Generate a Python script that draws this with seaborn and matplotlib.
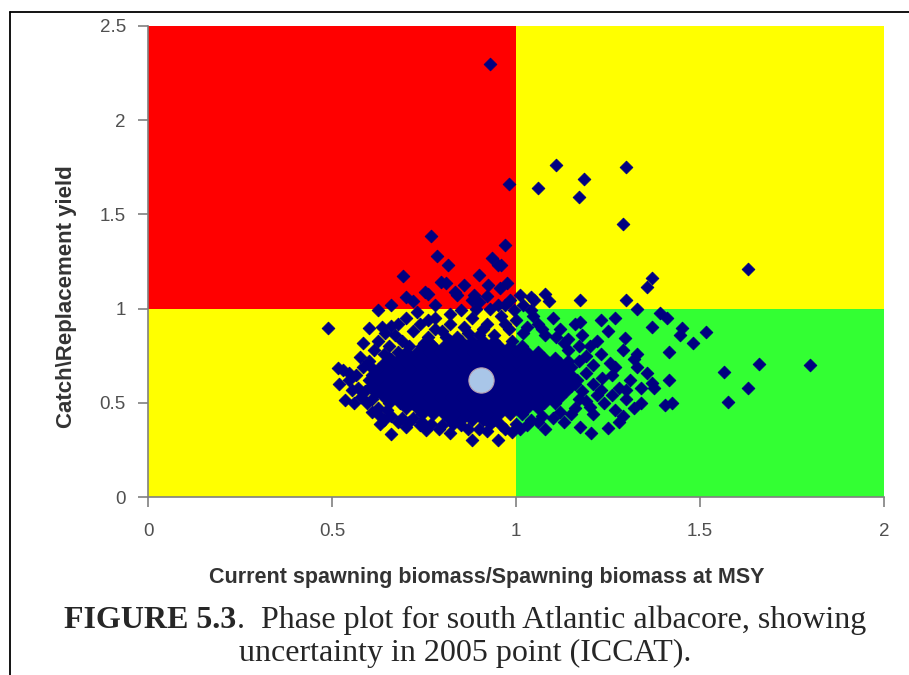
import pandas as pd
import seaborn as sns
import matplotlib.pyplot as plt
from matplotlib.lines import Line2D

# Stock status zones (x range, y range, colour)
zone_x = [(0, 1), (1, 2), (0, 1), (1, 2)]
zone_y = [(1, 2.5), (1, 2.5), (0, 1), (0, 1)]
zone_colors = ['#ff0000', '#ffff00', '#ffff00', '#33ff33']

# Dense core of the bootstrap cloud, read row by row (y: list of x)
core_rows = {
    0.41: [0.82, 0.85, 0.88, 0.91, 0.94],
    0.44: [0.745, 0.775, 0.805, 0.835, 0.865, 0.895, 0.925, 0.955, 0.985, 1.015],
    0.47: [0.70, 0.73, 0.76, 0.79, 0.82, 0.85, 0.88, 0.91, 0.94, 0.97, 1.00, 1.03, 1.06],
    0.50: [0.655, 0.685, 0.715, 0.745, 0.775, 0.805, 0.835, 0.865, 0.895, 0.925, 0.955,
           0.985, 1.015, 1.045, 1.075, 1.105],
    0.53: [0.64, 0.67, 0.70, 0.73, 0.76, 0.79, 0.82, 0.85, 0.88, 0.91, 0.94, 0.97, 1.00,
           1.03, 1.06, 1.09, 1.12],
    0.56: [0.625, 0.655, 0.685, 0.715, 0.745, 0.775, 0.805, 0.835, 0.865, 0.895, 0.925,
           0.955, 0.985, 1.015, 1.045, 1.075, 1.105, 1.135],
    0.59: [0.61, 0.64, 0.67, 0.70, 0.73, 0.76, 0.79, 0.82, 0.85, 0.88, 0.91, 0.94, 0.97,
           1.00, 1.03, 1.06, 1.09, 1.12, 1.15],
    0.62: [0.625, 0.655, 0.685, 0.715, 0.745, 0.775, 0.805, 0.835, 0.865, 0.895, 0.925,
           0.955, 0.985, 1.015, 1.045, 1.075, 1.105, 1.135, 1.165],
    0.65: [0.61, 0.64, 0.67, 0.70, 0.73, 0.76, 0.79, 0.82, 0.85, 0.88, 0.91, 0.94, 0.97,
           1.00, 1.03, 1.06, 1.09, 1.12, 1.15],
    0.68: [0.625, 0.655, 0.685, 0.715, 0.745, 0.775, 0.805, 0.835, 0.865, 0.895, 0.925,
           0.955, 0.985, 1.015, 1.045, 1.075, 1.105, 1.135],
    0.71: [0.64, 0.67, 0.70, 0.73, 0.76, 0.79, 0.82, 0.85, 0.88, 0.91, 0.94, 0.97, 1.00,
           1.03, 1.06, 1.09, 1.12],
    0.74: [0.655, 0.685, 0.715, 0.745, 0.775, 0.805, 0.835, 0.865, 0.895, 0.925, 0.955,
           0.985, 1.015, 1.045, 1.075, 1.105],
    0.77: [0.70, 0.73, 0.76, 0.79, 0.82, 0.85, 0.88, 0.91, 0.94, 0.97, 1.00, 1.03, 1.06],
    0.80: [0.745, 0.775, 0.805, 0.835, 0.865, 0.895, 0.925, 0.955, 0.985, 1.015],
    0.83: [0.82, 0.85, 0.88, 0.91, 0.94],
}

# Scattered points around the core
halo_pts = [
    (0.49, 0.895), (0.53, 0.675), (0.515, 0.685), (0.535, 0.515), (0.555, 0.57),
    (0.60, 0.62), (0.595, 0.50), (0.61, 0.685), (0.575, 0.745), (0.585, 0.82),
    (0.60, 0.895), (0.635, 0.90), (0.625, 0.99), (0.63, 0.39), (0.66, 0.335),
    (0.65, 0.46), (0.545, 0.66), (0.57, 0.58), (0.62, 0.55), (0.625, 0.47),
    (0.64, 0.76), (0.655, 0.80), (0.67, 0.86), (0.68, 0.92), (0.70, 0.95),
    (0.62, 0.64), (0.58, 0.53), (0.56, 0.50), (0.64, 0.41), (0.68, 0.40),
    (0.70, 0.37), (0.72, 0.42), (0.755, 0.355), (0.745, 0.40), (0.80, 0.38),
    (0.82, 0.34), (0.85, 0.38), (0.88, 0.30), (0.90, 0.36), (0.93, 0.39),
    (0.95, 0.30), (0.97, 0.36), (1.00, 0.39), (0.99, 0.345), (1.03, 0.38),
    (1.06, 0.40), (1.08, 0.36), (1.10, 0.42), (1.13, 0.40), (1.15, 0.44),
    (1.175, 0.37), (1.205, 0.34), (1.25, 0.365), (1.28, 0.40),
    (0.72, 0.88), (0.74, 0.92), (0.76, 0.85), (0.78, 0.95), (0.80, 0.88),
    (0.82, 0.92), (0.84, 0.85), (0.86, 0.90), (0.88, 0.95), (0.90, 0.86),
    (0.92, 0.92), (0.94, 0.86), (0.96, 0.96), (0.98, 0.89), (1.00, 0.94),
    (1.02, 0.87), (1.04, 0.99), (1.06, 0.92), (1.08, 0.86), (1.10, 0.95),
    (1.12, 0.89), (1.14, 0.84), (1.16, 0.92), (1.18, 0.86), (0.73, 0.98),
    (0.85, 0.99), (0.93, 1.00), (1.02, 1.02), (1.09, 1.04), (0.69, 0.83),
    (0.77, 0.81), (0.99, 0.83), (1.20, 0.80),
    (1.14, 0.78), (1.17, 0.72), (1.19, 0.66), (1.21, 0.60), (1.22, 0.54),
    (1.20, 0.48), (1.17, 0.52), (1.23, 0.76), (1.255, 0.71), (1.26, 0.65),
    (1.28, 0.58), (1.24, 0.50), (1.27, 0.46), (1.30, 0.52), (1.31, 0.62),
    (1.30, 0.57), (1.33, 0.69), (1.295, 0.845), (1.29, 0.78), (1.16, 0.60),
    (1.18, 0.56), (1.15, 0.69), (1.22, 0.83), (1.25, 0.88), (1.27, 0.95),
    (1.23, 0.94), (1.175, 0.93),
    (0.52, 0.60), (0.545, 0.62), (0.565, 0.65), (0.585, 0.69), (0.60, 0.72),
    (0.59, 0.56), (0.605, 0.59), (0.61, 0.52), (0.615, 0.78), (0.625, 0.83),
    (0.645, 0.87), (0.66, 0.91), (0.61, 0.45), (0.63, 0.43), (0.66, 0.43),
    (0.69, 0.42), (0.71, 0.40), (0.74, 0.38), (0.77, 0.39), (0.79, 0.36),
    (0.83, 0.39), (0.87, 0.36), (0.92, 0.35), (0.96, 0.38), (1.01, 0.36),
    (1.04, 0.41), (1.07, 0.43), (1.12, 0.45), (1.16, 0.47), (1.19, 0.51),
    (1.23, 0.57), (1.235, 0.63), (1.21, 0.70), (1.19, 0.75), (1.17, 0.80),
    (1.13, 0.82), (1.11, 0.85), (1.07, 0.89), (1.03, 0.90), (0.97, 0.92),
    (0.91, 0.89), (0.87, 0.87), (0.81, 0.85), (0.78, 0.89), (0.75, 0.82),
    (0.71, 0.80), (0.68, 0.77), (0.66, 0.73), (1.27, 0.69), (1.32, 0.73),
    (1.34, 0.58), (1.32, 0.47), (1.29, 0.43), (1.26, 0.54), (1.21, 0.44),
    (1.14, 0.72), (1.045, 0.96), (0.995, 0.99), (0.95, 1.02), (0.89, 1.00),
    (0.82, 0.97), (0.76, 0.94),
]

# Isolated points in the green, yellow and red zones
outlier_pts = [
    (1.37, 0.90), (1.45, 0.895), (1.515, 0.877), (1.445, 0.86), (1.48, 0.815),
    (1.33, 0.76), (1.415, 0.77), (1.41, 0.95), (1.39, 0.975), (1.565, 0.665),
    (1.66, 0.705), (1.80, 0.70), (1.63, 0.58), (1.575, 0.505), (1.37, 0.605),
    (1.415, 0.62), (1.375, 0.58), (1.405, 0.49), (1.425, 0.50), (1.355, 0.66),
    (1.34, 0.50),
    (1.11, 1.76), (1.30, 1.75), (1.06, 1.64), (1.185, 1.69), (1.17, 1.59),
    (1.29, 1.45), (1.63, 1.21), (1.37, 1.16), (1.355, 1.115), (1.175, 1.045),
    (1.30, 1.045), (1.05, 1.045), (1.08, 1.08), (1.01, 1.07), (1.33, 1.00),
    (1.04, 1.06),
    (0.93, 2.30), (0.98, 1.66), (0.97, 1.34), (0.96, 1.23), (0.975, 1.135),
    (0.77, 1.385), (0.786, 1.28), (0.693, 1.175), (0.797, 1.14), (0.816, 1.23),
    (0.753, 1.09), (0.935, 1.27), (0.95, 1.23), (0.90, 1.18), (0.86, 1.125),
    (0.835, 1.09), (0.88, 1.045), (0.92, 1.067), (0.957, 1.11), (0.985, 1.045),
    (0.76, 1.08), (0.84, 1.07), (0.925, 1.125), (0.81, 1.135), (0.885, 1.07),
    (0.90, 1.035), (0.72, 1.04), (0.66, 1.02), (0.70, 1.06), (0.78, 1.02),
    (0.97, 1.02),
]

# 2005 point estimate
mean_x = [0.905]
mean_y = [0.62]

x_ticks = [0, 0.5, 1, 1.5, 2]
x_ticklabels = ['0', '0.5', '1', '1.5', '2']
y_ticks = [0, 0.5, 1, 1.5, 2, 2.5]
y_ticklabels = ['0', '0.5', '1', '1.5', '2', '2.5']

# build one table of points
rows = [(x, y) for y, xs in core_rows.items() for x in xs] + halo_pts + outlier_pts
df = pd.DataFrame(rows, columns=['biomass', 'catch'])

sns.set_style('ticks')
plt.rcParams['font.family'] = ['Liberation Sans', 'DejaVu Sans']

fig = plt.figure(figsize=(9.09, 6.75), dpi=100)
ax = fig.add_axes([148 / 909, 178 / 675, 736 / 909, 471 / 675])

for (x0, x1), (y0, y1), c in zip(zone_x, zone_y, zone_colors):
    ax.fill_between([x0, x1], y0, y1, color=c, linewidth=0, zorder=0)

sns.scatterplot(data=df, x='biomass', y='catch', marker='D', s=42,
                color='#000080', edgecolor='#000080', linewidth=0.6, ax=ax, zorder=3)
sns.scatterplot(x=mean_x, y=mean_y, s=330, color='#a9c6e8', edgecolor='#b8a0b0',
                linewidth=0.8, ax=ax, zorder=4)

ax.set_xlim(0, 2)
ax.set_ylim(0, 2.5)
ax.set_xticks(x_ticks, x_ticklabels)
ax.set_yticks(y_ticks, y_ticklabels)
sns.despine(ax=ax)
for side in ['left', 'bottom']:
    ax.spines[side].set_color('#808080')
    ax.spines[side].set_linewidth(1.2)
    ax.spines[side].set_zorder(5)
ax.tick_params(direction='out', length=7, width=1.2, color='#808080',
               labelsize=13.5, labelcolor='#505050')
ax.tick_params(axis='x', pad=12)
ax.tick_params(axis='y', pad=9)

ax.set_xlabel('Current spawning biomass/Spawning biomass at MSY', fontsize=15.5,
              fontweight='bold', color='#333333', va='center')
ax.xaxis.set_label_coords(0.46, -0.17)
ax.set_ylabel('Catch\\Replacement yield', fontsize=16, fontweight='bold',
              color='#333333', va='center')
ax.yaxis.set_label_coords(-0.111, 0.425)

# caption: bold figure number followed by regular text, centred as one line
serif = ['Liberation Serif', 'DejaVu Serif']
renderer = fig.canvas.get_renderer()
t_bold = fig.text(0, 0.0696, 'FIGURE 5.3', family=serif, fontsize=23,
                  fontweight='bold', va='baseline')
t_rest = fig.text(0, 0.0696, '.  Phase plot for south Atlantic albacore, showing',
                  family=serif, fontsize=23, va='baseline')
w_bold = t_bold.get_window_extent(renderer).width / fig.bbox.width
w_rest = t_rest.get_window_extent(renderer).width / fig.bbox.width
start = 0.5116 - (w_bold + w_rest) / 2
t_bold.set_x(start)
t_rest.set_x(start + w_bold)
fig.text(0.5116, 0.0207, 'uncertainty in 2005 point (ICCAT).', family=serif,
         fontsize=23, ha='center', va='baseline')

# page frame lines
fig.add_artist(Line2D([10 / 909, 10 / 909], [0, 663 / 675], transform=fig.transFigure,
                      color='black', lw=1.3))
fig.add_artist(Line2D([10 / 909, 1], [663 / 675, 663 / 675], transform=fig.transFigure,
                      color='black', lw=1.3))

fig.savefig('out.png', dpi=100)
